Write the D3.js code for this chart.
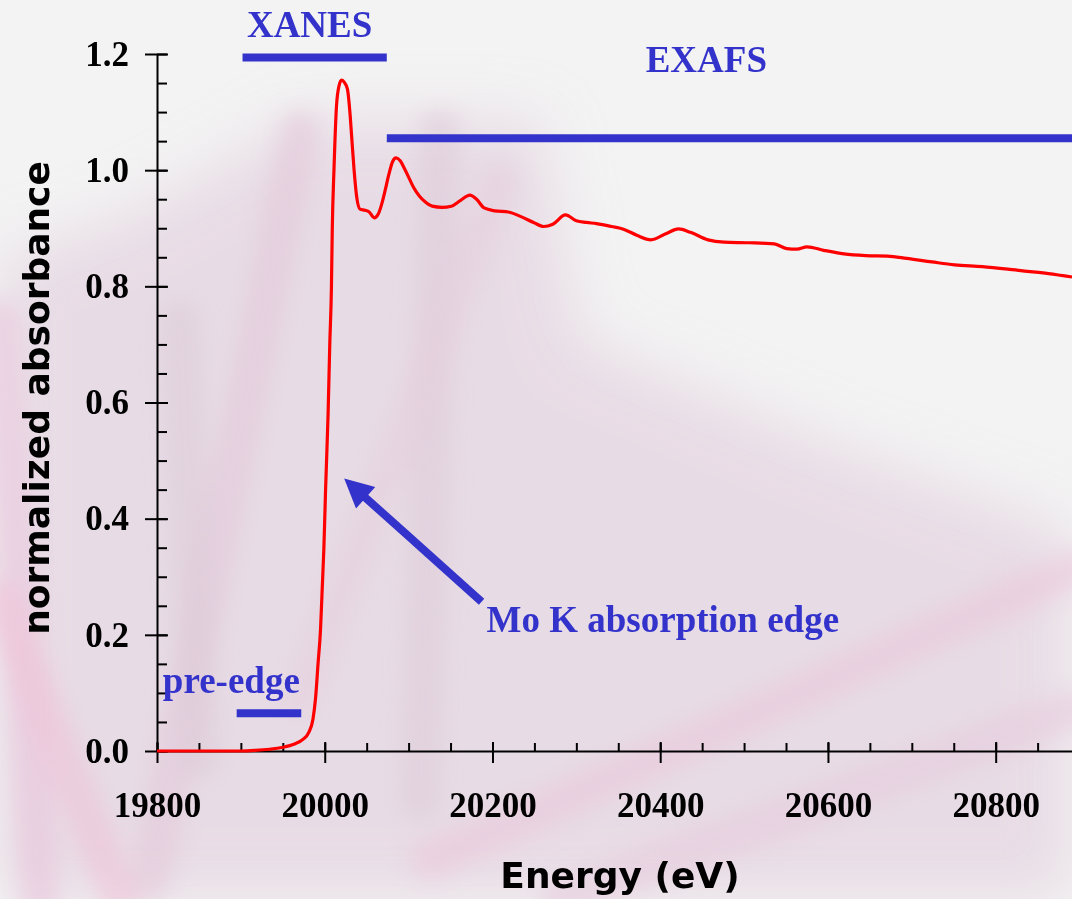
<!DOCTYPE html>
<html>
<head>
<meta charset="utf-8">
<script src="https://cdn.jsdelivr.net/npm/d3@7"></script>
<style>
  html, body { margin: 0; padding: 0; background: #f3f3f3; }
  svg { display: block; }
</style>
</head>
<body>
<div id="chart"></div>
<script>
// Mo K-edge spectrum
const energy = [19800, 19850, 19900, 19917, 19934, 19949, 19964, 19974, 19981, 19986,
  19989, 19992, 19995, 19997, 19999, 20001, 20004, 20006, 20008, 20009,
  20011, 20014, 20017, 20020, 20023, 20027, 20030, 20032, 20035, 20038,
  20042, 20048, 20053, 20059, 20064, 20068, 20072, 20076, 20081, 20085,
  20090, 20095, 20101, 20106, 20113, 20120, 20128, 20140, 20151, 20162,
  20173, 20181, 20190, 20203, 20219, 20234, 20249, 20261, 20272, 20287,
  20300, 20312, 20324, 20342, 20357, 20372, 20389, 20406, 20422, 20436,
  20457, 20476, 20506, 20536, 20551, 20563, 20575, 20595, 20619, 20645,
  20671, 20694, 20724, 20751, 20784, 20830, 20863, 20891];
const absorbance = [0, 0, 0, 0.001, 0.003, 0.006, 0.012, 0.02, 0.032, 0.055,
  0.09, 0.15, 0.21, 0.28, 0.35, 0.45, 0.58, 0.70, 0.80, 0.90,
  1.00, 1.11, 1.145, 1.155, 1.152, 1.140, 1.10, 1.06, 1.00, 0.955,
  0.933, 0.931, 0.928, 0.918, 0.925, 0.942, 0.965, 0.990, 1.015, 1.021,
  1.016, 1.003, 0.985, 0.970, 0.955, 0.945, 0.938, 0.936, 0.938, 0.948,
  0.957, 0.950, 0.935, 0.930, 0.928, 0.920, 0.910, 0.903, 0.907, 0.923,
  0.913, 0.910, 0.908, 0.903, 0.898, 0.888, 0.880, 0.890, 0.899, 0.893,
  0.880, 0.876, 0.875, 0.873, 0.865, 0.864, 0.868, 0.862, 0.856, 0.853,
  0.852, 0.848, 0.842, 0.837, 0.834, 0.827, 0.822, 0.816];

const xTicks = [19800, 20000, 20200, 20400, 20600, 20800];
const yTicks = [0.0, 0.2, 0.4, 0.6, 0.8, 1.0, 1.2];
const xMinorTicks = d3.range(19800, 20891, 50);
const yMinorTicks = d3.range(0, 1.2001, 0.05);

// spectral regions: label, start eV, end eV, bar level
const regionLabels = ['pre-edge', 'XANES', 'EXAFS'];
const regionStart = [19895, 19902, 20074];
const regionEnd = [19972, 20074, 20891];
const regionLevel = [0.065, 1.194, 1.055];

const edgeLabel = 'Mo K absorption edge';
const edgeArrowFrom = [20187, 0.257];
const edgeArrowTo = [20017, 0.477];

const W = 1072, H = 899;
const blue = '#3333cc';

const svg = d3.select('#chart').append('svg')
    .attr('width', W)
    .attr('height', H);

// faded flower-like backdrop
const defs = svg.append('defs');
defs.append('filter').attr('id', 'blur')
    .attr('x', '-20%').attr('y', '-20%').attr('width', '140%').attr('height', '140%')
    .append('feGaussianBlur').attr('stdDeviation', 10);
defs.append('filter').attr('id', 'blurWide')
    .attr('x', '-20%').attr('y', '-20%').attr('width', '140%').attr('height', '140%')
    .append('feGaussianBlur').attr('stdDeviation', 30);

svg.append('rect').attr('width', W).attr('height', H).attr('fill', '#f3f3f3');

svg.append('path')
    .attr('filter', 'url(#blurWide)')
    .attr('d', 'M0,260 L140,210 L300,120 L540,120 L580,340 L820,440 L1072,530 L1072,899 L0,899 Z')
    .attr('fill', '#e6d8e3')
    .attr('opacity', 0.85);

const bg = svg.append('g').attr('filter', 'url(#blur)');
const streaks = [
    [40, 899, 0, 320, '#e9c4da'],
    [150, 880, 300, 130, '#e3c6d9'],
    [200, 760, 180, 320, '#dccbd8'],
    [420, 800, 440, 130, '#dfcad9'],
    [300, 700, 500, 180, '#e6d0de'],
    [430, 860, 1072, 570, '#ebc6db'],
    [560, 899, 1072, 710, '#e8cadc'],
    [0, 600, 120, 899, '#eec2d8']
];
bg.selectAll('.streak')
    .data(streaks)
    .enter()
    .append('line')
    .attr('class', 'streak')
    .attr('x1', d => d[0]).attr('y1', d => d[1])
    .attr('x2', d => d[2]).attr('y2', d => d[3])
    .attr('stroke', d => d[4])
    .attr('stroke-width', 40)
    .attr('stroke-linecap', 'round')
    .attr('opacity', 0.55);

const xScale = d3.scaleLinear().domain([19800, 20891]).range([157, 1072]);
const yScale = d3.scaleLinear().domain([0, 1.2]).range([751, 54]);

const tickFont = '"Liberation Serif", "Times New Roman", serif';

// y axis
const gy = svg.append('g').attr('transform', 'translate(157,0)');
gy.call(d3.axisLeft(yScale)
        .tickValues(yTicks)
        .tickFormat(d3.format('.1f'))
        .tickSize(12)
        .tickSizeOuter(0)
        .tickPadding(16));
gy.append('g').call(d3.axisRight(yScale).tickValues(yMinorTicks).tickSize(10).tickSizeOuter(0).tickFormat(''))
    .select('.domain').remove();
gy.append('g').call(d3.axisRight(yScale).tickValues(yTicks).tickSize(11).tickSizeOuter(0).tickFormat(''))
    .select('.domain').remove();

// x axis
const gx = svg.append('g').attr('transform', 'translate(0,751)');
gx.call(d3.axisBottom(xScale)
        .tickValues(xTicks)
        .tickFormat(d3.format('d'))
        .tickSize(12)
        .tickSizeOuter(0)
        .tickPadding(29));
gx.append('g').call(d3.axisTop(xScale).tickValues(xMinorTicks).tickSize(8).tickSizeOuter(0).tickFormat(''))
    .select('.domain').remove();
gx.append('g').call(d3.axisTop(xScale).tickValues(xTicks).tickSize(9).tickSizeOuter(0).tickFormat(''))
    .select('.domain').remove();

svg.selectAll('.tick line').attr('stroke', '#000').attr('stroke-width', 2);
svg.selectAll('.domain').attr('stroke', '#000').attr('stroke-width', 2);
svg.selectAll('.tick text')
    .attr('fill', '#000')
    .style('font-family', tickFont)
    .style('font-weight', 'bold')
    .style('font-size', '35px');

// axis titles
svg.append('text')
    .attr('x', 620)
    .attr('y', 888)
    .attr('text-anchor', 'middle')
    .style('font-family', '"DejaVu Sans", sans-serif')
    .style('font-weight', 'bold')
    .style('font-size', '36px')
    .attr('fill', '#000')
    .text('Energy (eV)');

svg.append('text')
    .attr('transform', 'translate(49,398) rotate(-90)')
    .attr('text-anchor', 'middle')
    .style('font-family', '"DejaVu Sans", sans-serif')
    .style('font-weight', 'bold')
    .style('font-size', '36px')
    .attr('fill', '#000')
    .text('normalized absorbance');

// spectrum
const spectrum = energy.map((e, i) => ({ e: e, a: absorbance[i] }));
const line = d3.line()
    .x(d => xScale(d.e))
    .y(d => yScale(d.a))
    .curve(d3.curveMonotoneX);

svg.append('path')
    .datum(spectrum)
    .attr('d', line)
    .attr('fill', 'none')
    .attr('stroke', '#ff0000')
    .attr('stroke-width', 3.2)
    .attr('stroke-linejoin', 'round');

// region bars and labels
const regions = regionLabels.map((label, i) => ({
    label: label, start: regionStart[i], end: regionEnd[i], level: regionLevel[i]
}));

svg.selectAll('.region-bar')
    .data(regions)
    .enter()
    .append('line')
    .attr('class', 'region-bar')
    .attr('x1', d => xScale(d.start))
    .attr('x2', d => xScale(d.end))
    .attr('y1', d => yScale(d.level))
    .attr('y2', d => yScale(d.level))
    .attr('stroke', blue)
    .attr('stroke-width', 8);

const labelStyle = sel => sel
    .attr('fill', blue)
    .style('font-family', tickFont)
    .style('font-weight', 'bold')
    .style('font-size', '37px');

// label anchors: pre-edge text sits above-left of its bar, the others are centred
svg.append('text').attr('x', xScale(19807)).attr('y', yScale(0.1)).call(labelStyle).text(regionLabels[0]);
svg.append('text').attr('x', xScale(19982)).attr('y', yScale(1.229)).attr('text-anchor', 'middle').call(labelStyle).text(regionLabels[1]);
svg.append('text').attr('x', xScale(20455)).attr('y', yScale(1.169)).attr('text-anchor', 'middle').call(labelStyle).text(regionLabels[2]);

// edge arrow
defs.append('marker')
    .attr('id', 'arrow')
    .attr('viewBox', '0 0 10 10')
    .attr('refX', 2)
    .attr('refY', 5)
    .attr('markerWidth', 4.2)
    .attr('markerHeight', 3.6)
    .attr('markerUnits', 'strokeWidth')
    .attr('orient', 'auto')
    .append('path')
    .attr('d', 'M0,0 L10,5 L0,10 Z')
    .attr('fill', blue);

const ax1 = xScale(edgeArrowFrom[0]), ay1 = yScale(edgeArrowFrom[1]);
const ax2 = xScale(edgeArrowTo[0]), ay2 = yScale(edgeArrowTo[1]);
const len = Math.hypot(ax2 - ax1, ay2 - ay1);
const shorten = 30;
svg.append('line')
    .attr('x1', ax1)
    .attr('y1', ay1)
    .attr('x2', ax2 - (ax2 - ax1) / len * shorten)
    .attr('y2', ay2 - (ay2 - ay1) / len * shorten)
    .attr('stroke', blue)
    .attr('stroke-width', 8)
    .attr('marker-end', 'url(#arrow)');

svg.append('text').attr('x', xScale(20193)).attr('y', yScale(0.205)).call(labelStyle).text(edgeLabel);
</script>
</body>
</html>
